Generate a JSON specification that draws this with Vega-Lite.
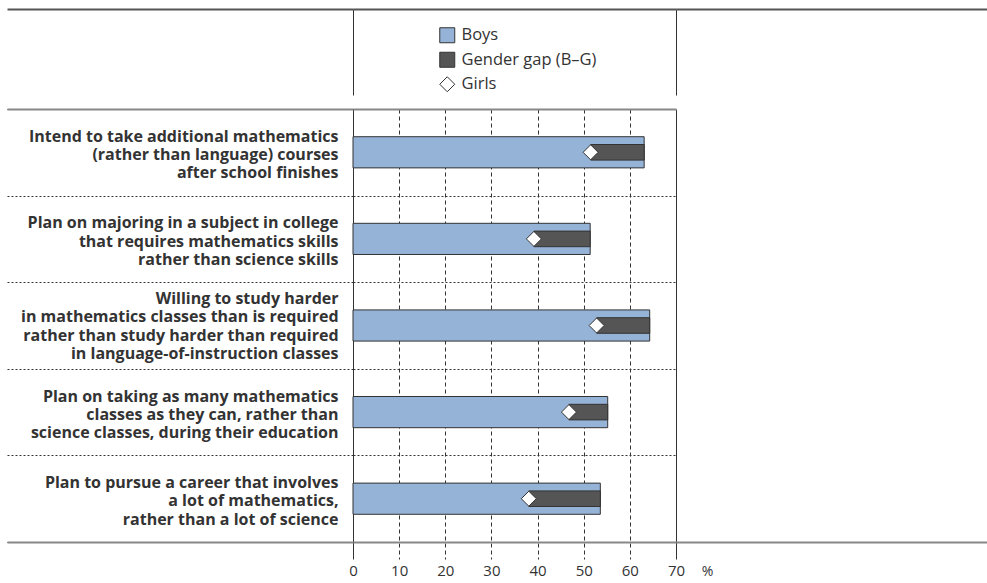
{
  "$schema": "https://vega.github.io/schema/vega-lite/v6.json",
  "autosize": "none",
  "width": 323,
  "height": 533,
  "padding": {"left": 353, "top": 9, "right": 311, "bottom": 41},
  "background": "white",
  "config": {"view": {"stroke": null}, "font": "Open Sans"},
  "data": {
    "values": [
      {"item": "Intend to take additional mathematics|(rather than language) courses|after school finishes", "boys": 63.1, "girls": 51.5},
      {"item": "Plan on majoring in a subject in college|that requires mathematics skills|rather than science skills", "boys": 51.4, "girls": 39.2},
      {"item": "Willing to study harder|in mathematics classes than is required|rather than study harder than required|in language-of-instruction classes", "boys": 64.3, "girls": 52.8},
      {"item": "Plan on taking as many mathematics|classes as they can, rather than|science classes, during their education", "boys": 55.2, "girls": 46.8},
      {"item": "Plan to pursue a career that involves|a lot of mathematics,|rather than a lot of science", "boys": 53.6, "girls": 38.1}
    ]
  },
  "layer": [
    {
      "layer": [
        {
          "mark": {"type": "bar", "height": {"band": 0.36}, "stroke": "#333333", "strokeWidth": 1},
          "encoding": {
            "y": {
              "field": "item", "type": "nominal", "sort": null,
              "scale": {"range": [100, 533], "paddingInner": 0, "paddingOuter": 0},
              "axis": {
                "orient": "left", "title": null, "domain": false,
                "tickBand": "extent", "ticks": true, "tickSize": 346, "tickColor": "#333333", "tickDash": [2, 2], "tickWidth": 1,
                "grid": true, "gridDash": [2, 2], "gridColor": "#333333", "gridWidth": 1, "gridOpacity": 1,
                "labelExpr": "split(datum.label, '|')", "labelPadding": -331, "labelFont": "Open Sans",
                "labelFontWeight": "bold", "labelFontSize": 16, "labelColor": "#333333", "labelLineHeight": 18.3,
                "labelOffset": {"condition": {"test": "length(split(datum.label, '|')) == 4", "value": -27}, "value": -16},
                "labelAlign": "right", "labelBaseline": "middle", "labelLimit": 500, "zindex": 0
              }
            },
            "x": {
              "field": "boys", "type": "quantitative",
              "scale": {"domain": [0, 70], "nice": false, "zero": true},
              "axis": {
                "orient": "bottom", "offset": -433, "values": [0, 10, 20, 30, 40, 50, 60, 70],
                "domain": true, "domainColor": "#888888", "domainWidth": 2,
                "ticks": true, "tickSize": 450, "tickColor": "#333333", "tickWidth": 1,
                "tickDash": {"condition": {"test": "datum.value == 0 || datum.value == 70", "value": []}, "value": [4, 3]},
                "grid": false, "labels": true, "labelPadding": 4, "labelFont": "Open Sans", "labelFontSize": 15,
                "labelColor": "#333333", "labelFlush": false, "labelBaseline": "top",
                "title": "%", "titleX": 354, "titleY": 462, "titleFont": "Open Sans", "titleFontWeight": "normal",
                "titleFontSize": 14, "titleColor": "#333333", "titleBaseline": "middle", "titleAlign": "center", "zindex": 0
              }
            },
            "fill": {
              "datum": "Boys", "type": "nominal",
              "scale": {"domain": ["Boys", "Gender gap (B–G)", "Girls"], "range": ["#95b3d7", "#555555", "#ffffff"]},
              "legend": {
                "orient": "none", "legendX": 86, "legendY": 18, "title": null, "padding": 0,
                "symbolSize": 225, "symbolStrokeColor": "#333333", "symbolStrokeWidth": 1,
                "labelFont": "Open Sans", "labelFontSize": 16.5, "labelColor": "#333333", "labelOffset": 6,
                "rowPadding": 4.5,
                "encode": {"symbols": {"update": {"shape": {"signal": "datum.value === 'Girls' ? 'diamond' : 'square'"}, "stroke": {"value": "#333333"}, "strokeWidth": {"value": 1}}}}
              }
            }
          }
        },
        {
          "mark": {"type": "bar", "height": {"band": 0.18}, "stroke": "#333333", "strokeWidth": 1},
          "encoding": {
            "y": {"field": "item", "type": "nominal", "sort": null},
            "x": {"field": "girls", "type": "quantitative"},
            "x2": {"field": "boys"},
            "fill": {"datum": "Gender gap (B–G)", "type": "nominal"}
          }
        },
        {
          "mark": {"type": "point", "shape": "diamond", "filled": true, "size": 225, "stroke": "#333333", "strokeWidth": 1, "opacity": 1},
          "encoding": {
            "y": {"field": "item", "type": "nominal", "sort": null},
            "x": {"field": "girls", "type": "quantitative"},
            "fill": {"datum": "Girls", "type": "nominal"}
          }
        }
      ]
    },
    {
      "mark": {"type": "point", "opacity": 0, "size": 0},
      "encoding": {
        "x": {
          "datum": 0, "type": "quantitative", "scale": {"domain": [0, 70], "nice": false},
          "axis": {
            "orient": "top", "domain": true, "domainColor": "#555555", "domainWidth": 2,
            "values": [0, 70], "ticks": true, "tickSize": -86, "tickColor": "#333333", "tickWidth": 1,
            "labels": false, "grid": false, "title": null
          }
        },
        "y": {
          "datum": 0, "type": "quantitative", "scale": {"domain": [0, 533], "range": [0, 533], "nice": false, "zero": false},
          "axis": {
            "orient": "left", "domain": false, "labels": false, "grid": false, "title": null,
            "values": [0, 100, 533], "ticks": true, "tickSize": 346, "tickWidth": 2,
            "tickColor": {"condition": {"test": "datum.value == 0", "value": "#555555"}, "value": "#888888"}
          }
        }
      }
    },
    {
      "mark": {"type": "point", "opacity": 0, "size": 0},
      "encoding": {
        "x": {
          "datum": 0, "type": "quantitative", "scale": {"domain": [0, 70], "nice": false},
          "axis": {
            "orient": "bottom", "domain": true, "domainColor": "#888888", "domainWidth": 2,
            "ticks": false, "labels": false, "grid": false, "title": null
          }
        },
        "y": {
          "datum": 0, "type": "quantitative", "scale": {"domain": [0, 533], "range": [0, 533], "nice": false, "zero": false},
          "axis": {
            "orient": "right", "domain": false, "labels": false, "grid": false, "title": null,
            "values": [0, 533], "ticks": true, "tickSize": 311, "tickWidth": 2,
            "tickColor": {"condition": {"test": "datum.value == 0", "value": "#555555"}, "value": "#888888"}
          }
        }
      }
    }
  ],
  "resolve": {"scale": {"y": "independent"}, "axis": {"x": "independent", "y": "independent"}}
}
